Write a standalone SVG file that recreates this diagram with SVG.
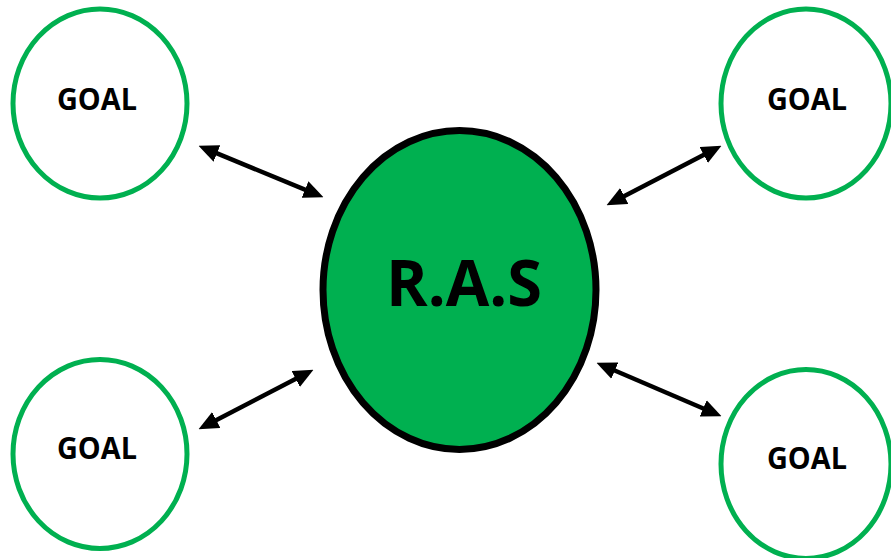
<svg xmlns="http://www.w3.org/2000/svg" width="891" height="558" viewBox="0 0 891 558">
  <style>
    .goal { fill: #ffffff; stroke: #00b050; stroke-width: 5; }
    .core { fill: #00b050; stroke: #000000; stroke-width: 7; }
    .label { font-family: "Open Sans", "Liberation Sans", sans-serif; font-weight: 700; fill: #000000; text-anchor: middle; }
    .small { font-size: 31px; }
    .big { font-size: 64px; }
    .link { stroke: #000000; stroke-width: 4.5; fill: none; marker-start: url(#head); marker-end: url(#head); }
  </style>
  <defs>
    <marker id="head" markerUnits="userSpaceOnUse" markerWidth="20" markerHeight="18" viewBox="0 0 19 17" refX="8" refY="8.5" orient="auto-start-reverse">
      <path d="M0,0 L19,8.5 L0,17 z" fill="#000000"/>
    </marker>
  </defs>

  <rect width="891" height="558" fill="#ffffff"/>

  <!-- connectors between the centre and each goal -->
  <g id="connectors">
    <line class="link" x1="209.2" y1="150.2" x2="312.8" y2="192.8"/>
    <line class="link" x1="711.2" y1="151.1" x2="616.8" y2="199.9"/>
    <line class="link" x1="208.8" y1="423.9" x2="303.2" y2="375.1"/>
    <line class="link" x1="607.1" y1="367.3" x2="710.9" y2="411.7"/>
  </g>

  <g id="ras">
    <ellipse class="core" cx="459.5" cy="290" rx="136.5" ry="159.5"/>
    <text class="label big" x="464" y="306" textLength="156" lengthAdjust="spacingAndGlyphs">R.A.S</text>
  </g>

  <g id="goal-top-left">
    <ellipse class="goal" cx="100" cy="103.5" rx="87" ry="94.5"/>
    <text class="label small" x="97" y="110" textLength="80" lengthAdjust="spacingAndGlyphs">GOAL</text>
  </g>

  <g id="goal-top-right">
    <ellipse class="goal" cx="806" cy="103.5" rx="85" ry="94.5"/>
    <text class="label small" x="807" y="110" textLength="80" lengthAdjust="spacingAndGlyphs">GOAL</text>
  </g>

  <g id="goal-bottom-left">
    <ellipse class="goal" cx="100" cy="454" rx="87" ry="94.5"/>
    <text class="label small" x="97" y="459" textLength="80" lengthAdjust="spacingAndGlyphs">GOAL</text>
  </g>

  <g id="goal-bottom-right">
    <ellipse class="goal" cx="806" cy="464" rx="85" ry="94.5"/>
    <text class="label small" x="807" y="469" textLength="80" lengthAdjust="spacingAndGlyphs">GOAL</text>
  </g>
</svg>
